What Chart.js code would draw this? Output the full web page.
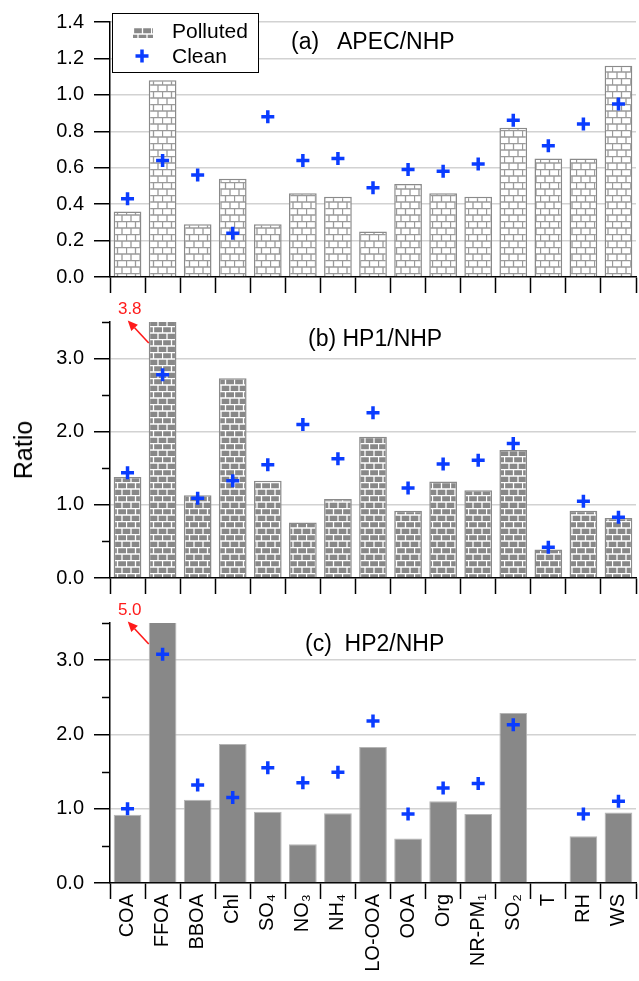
<!DOCTYPE html>
<html>
<head>
<meta charset="utf-8">
<script src="https://cdn.jsdelivr.net/npm/chart.js@4.4.1/dist/chart.umd.min.js"></script>
<style>
  html, body { margin: 0; padding: 0; width: 639px; height: 981px; overflow: hidden; background: #fff; }
  body { position: relative; font-family: "Liberation Sans", Arial, sans-serif; color: #000; }
  canvas.panel { position: absolute; left: 0; }
  .lbl { position: absolute; white-space: pre; line-height: 28px; }
  #legend { position: absolute; left: 112px; top: 13px; width: 147px; height: 60px;
            box-sizing: border-box; border: 1.5px solid #000; background: #fff; }
  #legend span { position: absolute; left: 59px; font-size: 21px; line-height: 24px; }
</style>
</head>
<body>
<canvas id="cA" class="panel" width="646" height="300" style="top:0px"></canvas>
<canvas id="cB" class="panel" width="646" height="300" style="top:300px"></canvas>
<canvas id="cC" class="panel" width="646" height="381" style="top:600px"></canvas>

<div class="lbl" style="left:291px; top:27px; font-size:23px;">(a)   APEC/NHP</div>
<div class="lbl" style="left:308px; top:324px; font-size:23px;">(b) HP1/NHP</div>
<div class="lbl" style="left:305px; top:629px; font-size:23px;">(c)  HP2/NHP</div>
<div class="lbl" style="left:23px; top:450px; font-size:25px; transform:translate(-50%,-50%) rotate(-90deg);">Ratio</div>

<div id="legend">
  <canvas id="swatch" width="20" height="11" style="position:absolute;left:20px;top:13px"></canvas>
  <span style="top:5px">Polluted</span>
  <canvas id="crossmark" width="16" height="16" style="position:absolute;left:21px;top:34px"></canvas>
  <span style="top:30px">Clean</span>
</div>

<script>
// ---- dados ----
const categorias = ['COA','FFOA','BBOA','Chl','SO₄','NO₃','NH₄','LO-OOA','OOA','Org','NR-PM₁','SO₂','T','RH','WS'];

const poluidoA = [0.36, 1.08, 0.29, 0.54, 0.29, 0.46, 0.44, 0.25, 0.51, 0.46, 0.44, 0.82, 0.65, 0.65, 1.16];
const limpoA   = [0.43, 0.64, 0.56, 0.24, 0.88, 0.64, 0.65, 0.49, 0.59, 0.58, 0.62, 0.86, 0.72, 0.84, 0.95];

const poluidoB = [1.38, 3.8, 1.13, 2.73, 1.33, 0.76, 1.08, 1.93, 0.92, 1.32, 1.20, 1.75, 0.39, 0.92, 0.82];
const limpoB   = [1.44, 2.78, 1.09, 1.33, 1.55, 2.10, 1.63, 2.26, 1.23, 1.56, 1.61, 1.84, 0.42, 1.05, 0.83];

const poluidoC = [0.92, 5.0, 1.12, 1.87, 0.96, 0.52, 0.94, 1.83, 0.60, 1.10, 0.93, 2.29, 0.02, 0.63, 0.95];
const limpoC   = [1.00, 3.08, 1.32, 1.15, 1.55, 1.35, 1.49, 2.18, 0.93, 1.28, 1.34, 2.13, null, 0.93, 1.10];

const AZUL  = '#0a3cff';
const CINZA = '#888888';
const FONTE = '"Liberation Sans", Arial, sans-serif';

// ---- padrão de tijolos ----
function tijolos(fundo, linha) {
  const c = document.createElement('canvas');
  c.width = 18; c.height = 13;
  const g = c.getContext('2d');
  g.fillStyle = fundo; g.fillRect(0, 0, 18, 13);
  g.strokeStyle = linha; g.lineWidth = 1.3;
  g.beginPath();
  g.moveTo(0, 0.5);  g.lineTo(18, 0.5);
  g.moveTo(0, 7);    g.lineTo(18, 7);
  g.moveTo(0.5, 0.5); g.lineTo(0.5, 7);
  g.moveTo(9.5, 0.5); g.lineTo(9.5, 7);
  g.moveTo(5, 7);   g.lineTo(5, 13);
  g.moveTo(14, 7);  g.lineTo(14, 13);
  g.stroke();
  return g.createPattern(c, 'repeat');
}

// ---- plugins ----
const minorTicks = {
  id: 'minorTicks',
  afterDraw(chart) {
    const y = chart.scales.y, ctx = chart.ctx;
    ctx.save();
    ctx.strokeStyle = '#000'; ctx.lineWidth = 1.5;
    y.ticks.forEach(t => {
      if (Math.abs(t.value % 1) < 1e-6) return;
      const py = Math.round(y.getPixelForValue(t.value)) + 0.5;
      ctx.beginPath(); ctx.moveTo(y.right - 8, py); ctx.lineTo(y.right, py); ctx.stroke();
    });
    ctx.restore();
  }
};

const notaCorte = {
  id: 'notaCorte',
  afterDraw(chart, args, opts) {
    if (!opts.texto) return;
    const bar = chart.getDatasetMeta(0).data[opts.indice];
    const top = chart.chartArea.top;
    const x0 = bar.x - bar.width / 2, y0 = top + 21;
    const x1 = x0 - 21, y1 = top - 1.5;
    const ctx = chart.ctx;
    ctx.save();
    ctx.strokeStyle = '#ff1a1a'; ctx.fillStyle = '#ff1a1a'; ctx.lineWidth = 1.6;
    const ang = Math.atan2(y1 - y0, x1 - x0);
    const hx = x1 - 10 * Math.cos(ang), hy = y1 - 10 * Math.sin(ang);
    ctx.beginPath(); ctx.moveTo(x0, y0); ctx.lineTo(hx, hy); ctx.stroke();
    ctx.beginPath();
    ctx.moveTo(x1, y1);
    ctx.lineTo(hx + 4.5 * Math.sin(ang), hy - 4.5 * Math.cos(ang));
    ctx.lineTo(hx - 4.5 * Math.sin(ang), hy + 4.5 * Math.cos(ang));
    ctx.closePath(); ctx.fill();
    ctx.font = '17px ' + FONTE;
    ctx.textAlign = 'center'; ctx.textBaseline = 'middle';
    ctx.fillText(opts.texto, x0 - 19, top - 13);
    ctx.restore();
  }
};

// ---- montagem de um painel ----
function painel(id, polu, limpo, cfg) {
  const meio = v => Math.abs(v % 1) > 1e-6;
  return new Chart(document.getElementById(id).getContext('2d'), {
    type: 'bar',
    data: {
      labels: categorias,
      datasets: [{
        label: 'Polluted', data: polu, order: 2,
        backgroundColor: cfg.fundo, borderColor: cfg.borda, borderWidth: cfg.bordaW,
        barPercentage: 0.79, categoryPercentage: 1.0
      }, {
        type: 'line', label: 'Clean', data: limpo, order: 1,
        showLine: false, pointStyle: 'cross', pointRadius: 6.5, pointHoverRadius: 6.5,
        pointBorderWidth: 3.5, pointBorderColor: AZUL, pointBackgroundColor: AZUL
      }]
    },
    options: {
      responsive: false, animation: false, devicePixelRatio: 1,
      layout: { padding: { top: cfg.topo, left: 0, right: 0, bottom: 0 } },
      plugins: { legend: { display: false }, tooltip: { enabled: false }, notaCorte: cfg.nota || {} },
      scales: {
        x: {
          offset: true,
          grid: { offset: true, drawOnChartArea: false, drawTicks: true, tickLength: 16,
                  tickColor: '#000', tickWidth: 1.5 },
          border: { color: '#000', width: 1.5 },
          ticks: { display: cfg.rotulos, autoSkip: false, maxRotation: 90, minRotation: 90,
                   padding: -5, color: '#000', font: { size: 20, family: FONTE } },
          afterFit: s => { s.height = cfg.altX; }
        },
        y: {
          min: 0, max: cfg.max,
          ticks: { stepSize: cfg.passo, padding: 10, color: '#000', font: { size: 20, family: FONTE },
                   callback: v => (cfg.menor && meio(v)) ? '' : v.toFixed(1) },
          grid: {
            color: c => (cfg.menor && meio(c.tick.value)) || c.tick.value === 0 ? 'rgba(0,0,0,0)' : '#d2d2d2',
            lineWidth: 1.5,
            tickColor: c => (cfg.menor && meio(c.tick.value)) ? 'rgba(0,0,0,0)' : '#000',
            tickLength: 16, tickWidth: 1.5
          },
          border: { color: '#000', width: 1.5 },
          afterFit: s => { s.width = 110; }
        }
      }
    },
    plugins: cfg.menor ? [minorTicks, notaCorte] : [notaCorte]
  });
}

painel('cA', poluidoA, limpoA, {
  fundo: tijolos('#ffffff', '#9a9a9a'), borda: '#8a8a8a', bordaW: 1.5,
  topo: 17, altX: 23, max: 1.4, passo: 0.2, menor: false, rotulos: false
});
painel('cB', poluidoB, limpoB, {
  fundo: tijolos(CINZA, '#ffffff'), borda: '#8a8a8a', bordaW: 1.5,
  topo: 20, altX: 20, max: 3.5, passo: 0.5, menor: true, rotulos: false,
  nota: { texto: '3.8', indice: 1 }
});
painel('cC', poluidoC, limpoC, {
  fundo: CINZA, borda: '#b5b5b5', bordaW: 1,
  topo: 23, altX: 98, max: 3.5, passo: 0.5, menor: true, rotulos: true,
  nota: { texto: '5.0', indice: 1 }
});

// ---- legenda ----
(function () {
  const s = document.getElementById('swatch').getContext('2d');
  s.fillStyle = tijolos(CINZA, '#ffffff'); s.fillRect(0, 0, 20, 11);
  const m = document.getElementById('crossmark').getContext('2d');
  m.strokeStyle = AZUL; m.lineWidth = 3.5;
  m.beginPath(); m.moveTo(8, 1.5); m.lineTo(8, 14.5); m.moveTo(1.5, 8); m.lineTo(14.5, 8); m.stroke();
})();
</script>
</body>
</html>
